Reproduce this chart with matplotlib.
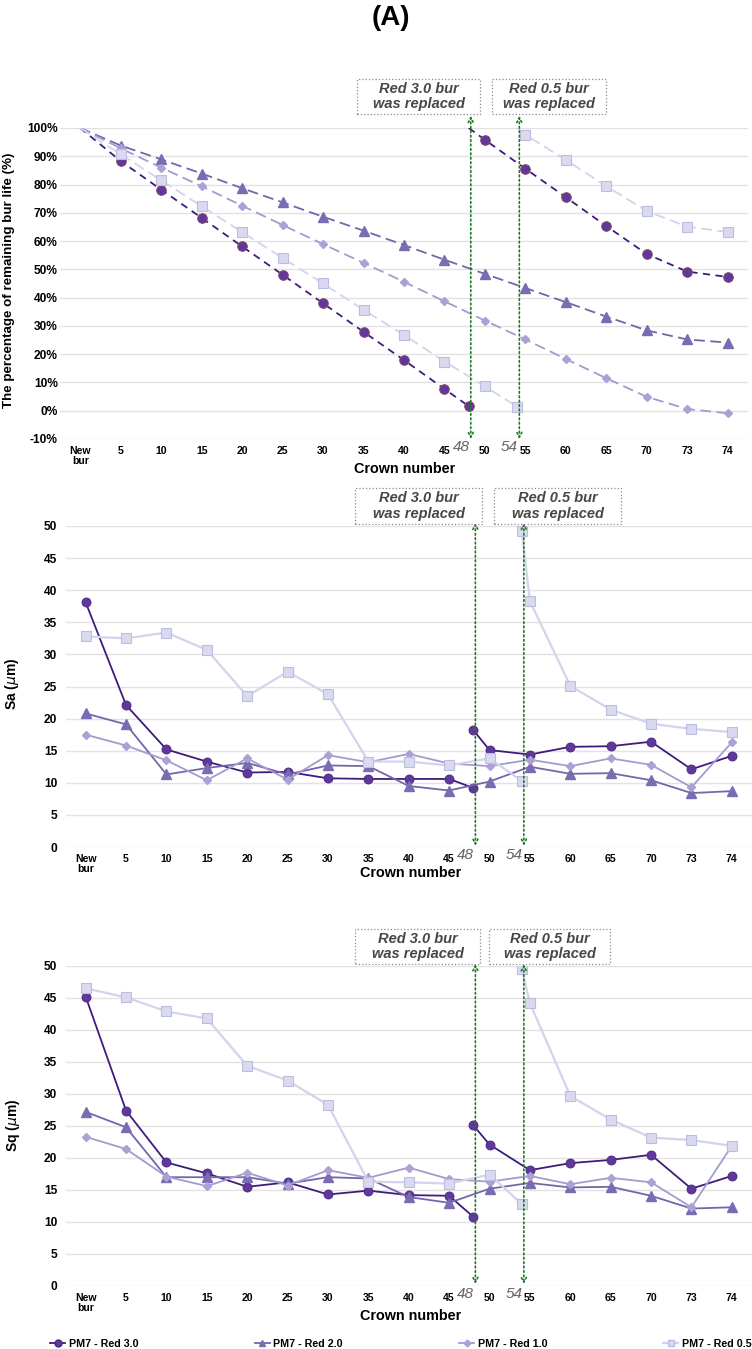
import numpy as np
import matplotlib
matplotlib.use("Agg")
from matplotlib import pyplot as plt
from matplotlib.lines import Line2D
from matplotlib.patches import Rectangle

plt.rcParams['font.family'] = ['Liberation Sans', 'DejaVu Sans']

# category axis: crown numbers shown as ticks
tick_crowns = [0, 5, 10, 15, 20, 25, 30, 35, 40, 45, 50, 55, 60, 65, 70, 73, 74]
tick_labels = ["New\nbur", "5", "10", "15", "20", "25", "30", "35", "40", "45",
               "50", "55", "60", "65", "70", "73", "74"]

series_names = ["PM7 - Red 3.0", "PM7 - Red 2.0", "PM7 - Red 1.0", "PM7 - Red 0.5"]

# crowns of the broken series (bur replaced at 48 and 54)
crowns_r30_a = [0, 5, 10, 15, 20, 25, 30, 35, 40, 45, 48]
crowns_r30_b = [48, 50, 55, 60, 65, 70, 73, 74]
crowns_r05_a = [0, 5, 10, 15, 20, 25, 30, 35, 40, 45, 50, 54]
crowns_r05_b = [54, 55, 60, 65, 70, 73, 74]

# remaining bur life (%)
life_r30_a = [100, 88.3, 78.2, 68.2, 58.1, 48.1, 38.0, 27.9, 17.9, 7.7, 1.6]
life_r30_b = [100, 95.8, 85.6, 75.5, 65.3, 55.4, 49.2, 47.3]
life_r20 = [100, 93.8, 88.9, 83.9, 78.7, 73.7, 68.6, 63.7, 58.6, 53.4, 48.4,
            43.4, 38.4, 33.3, 28.4, 25.2, 24.1]
life_r10 = [100, 92.8, 86.0, 79.4, 72.5, 65.7, 58.9, 52.3, 45.6, 38.7, 31.9,
            25.2, 18.3, 11.5, 4.9, 0.6, -0.9]
life_r05_a = [100, 90.7, 81.5, 72.3, 63.2, 54.0, 45.0, 35.7, 26.8, 17.4, 8.6, 1.4]
life_r05_b = [100, 97.6, 88.7, 79.4, 70.6, 65.1, 63.2]

# Sa (um)
sa_r30_a = [38.1, 22.1, 15.2, 13.3, 11.6, 11.7, 10.7, 10.6, 10.6, 10.6, 9.2]
sa_r30_b = [18.2, 15.1, 14.4, 15.6, 15.7, 16.4, 12.1, 14.2]
sa_r20 = [20.8, 19.1, 11.3, 12.3, 13.1, 11.3, 12.7, 12.6, 9.5, 8.8, 10.2,
          12.5, 11.4, 11.5, 10.4, 8.4, 8.7]
sa_r10 = [17.5, 15.8, 13.5, 10.4, 13.8, 10.5, 14.3, 13.2, 14.5, 13.0, 12.6,
          13.6, 12.6, 13.8, 12.8, 9.3, 16.3]
sa_r05_a = [32.8, 32.5, 33.4, 30.7, 23.5, 27.3, 23.8, 13.3, 13.3, 12.7, 13.8, 10.3]
sa_r05_b = [49.2, 38.3, 25.1, 21.4, 19.2, 18.4, 17.9]

# Sq (um)
sq_r30_a = [45.2, 27.4, 19.3, 17.6, 15.5, 16.2, 14.3, 14.9, 14.2, 14.1, 10.8]
sq_r30_b = [25.1, 22.1, 18.1, 19.2, 19.7, 20.5, 15.2, 17.2]
sq_r20 = [27.2, 24.8, 17.0, 17.0, 17.0, 16.0, 17.0, 16.8, 13.9, 13.0, 15.2,
          16.1, 15.4, 15.5, 14.1, 12.1, 12.3]
sq_r10 = [23.3, 21.4, 17.1, 15.6, 17.7, 15.7, 18.1, 16.9, 18.5, 16.7, 16.3,
          17.2, 15.9, 16.9, 16.2, 12.3, 21.9]
sq_r05_a = [46.5, 45.1, 42.9, 41.8, 34.4, 32.1, 28.3, 16.3, 16.2, 16.0, 17.4, 12.8]
sq_r05_b = [49.5, 44.2, 29.7, 26.0, 23.2, 22.8, 21.9]

replaced = [(48, "Red 3.0 bur\nwas replaced"), (54, "Red 0.5 bur\nwas replaced")]

# styles
c30_line, c30_mk, c30_edge = "#3f1c7a", "#60389a", "#4b2585"
c20_line, c20_mk = "#7565aa", "#7b6bb2"
c10_line, c10_mk = "#a49ad0", "#aca1d4"
c05_line, c05_mk, c05_edge = "#d3d3ec", "#d9d9ef", "#bdbddf"
green = "#1f7a1f"


def pos(crowns):
    return np.interp(crowns, tick_crowns, np.arange(len(tick_crowns)))


W, H = 752, 1349
fig = plt.figure(figsize=(W / 100, H / 100), dpi=100)


def rect(left, right, top, bottom):
    return [left / W, 1 - bottom / H, (right - left) / W, (bottom - top) / H]


ax_top = fig.add_axes(rect(60, 748, 128, 439))
ax_sa = fig.add_axes(rect(65.5, 752, 526, 847))
ax_sq = fig.add_axes(rect(65.5, 752, 966, 1286))

all_x = pos(tick_crowns)

# --- top panel: remaining bur life, dashed lines
kw = dict(lw=1.3, markevery=slice(1, None))
ax_top.plot(pos(crowns_r30_a), life_r30_a, color=c30_line, ls=(0, (4, 3)), marker="o", ms=7,
            mfc=c30_mk, mec="#8a4a60", mew=0.6, **kw)
ax_top.plot(pos(crowns_r30_b), life_r30_b, color=c30_line, ls=(0, (4, 3)), marker="o", ms=7,
            mfc=c30_mk, mec="#8a4a60", mew=0.6, **kw)
ax_top.plot(all_x, life_r20, color=c20_line, ls=(0, (6, 3)), marker="^", ms=7,
            mfc=c20_mk, mec=c20_mk, **kw)
ax_top.plot(all_x, life_r10, color=c10_line, ls=(0, (6, 3)), marker="D", ms=4.5,
            mfc=c10_mk, mec=c10_mk, **kw)
ax_top.plot(pos(crowns_r05_a), life_r05_a, color=c05_line, ls=(0, (6, 3)), marker="s", ms=7,
            mfc=c05_mk, mec=c05_edge, mew=0.8, **kw)
ax_top.plot(pos(crowns_r05_b), life_r05_b, color=c05_line, ls=(0, (6, 3)), marker="s", ms=7,
            mfc=c05_mk, mec=c05_edge, mew=0.8, **kw)


def solid_panel(ax, r30a, r30b, r20, r10, r05a, r05b):
    ax.plot(pos(crowns_r30_a), r30a, color=c30_line, lw=1.3, marker="o", ms=6.5,
            mfc=c30_mk, mec=c30_edge, mew=0.6)
    ax.plot(pos(crowns_r30_b), r30b, color=c30_line, lw=1.3, marker="o", ms=6.5,
            mfc=c30_mk, mec=c30_edge, mew=0.6)
    ax.plot(all_x, r20, color=c20_line, lw=1.3, marker="^", ms=6.5, mfc=c20_mk, mec=c20_mk)
    ax.plot(all_x, r10, color=c10_line, lw=1.3, marker="D", ms=4.5, mfc=c10_mk, mec=c10_mk)
    ax.plot(pos(crowns_r05_a), r05a, color=c05_line, lw=1.6, marker="s", ms=7,
            mfc=c05_mk, mec=c05_edge, mew=0.8)
    ax.plot(pos(crowns_r05_b), r05b, color=c05_line, lw=1.6, marker="s", ms=7,
            mfc=c05_mk, mec=c05_edge, mew=0.8)


solid_panel(ax_sa, sa_r30_a, sa_r30_b, sa_r20, sa_r10, sa_r05_a, sa_r05_b)
solid_panel(ax_sq, sq_r30_a, sq_r30_b, sq_r20, sq_r10, sq_r05_a, sq_r05_b)

# axes cosmetics
ax_top.set_ylim(-10, 100)
ax_top.set_yticks(range(-10, 101, 10))
ax_top.set_yticklabels([f"{v}%" for v in range(-10, 101, 10)])
for ax in (ax_sa, ax_sq):
    ax.set_ylim(0, 50)
    ax.set_yticks(range(0, 51, 5))

for ax in (ax_top, ax_sa, ax_sq):
    ax.set_xlim(-0.5, len(tick_crowns) - 0.5)
    ax.set_xticks(all_x)
    ax.set_xticklabels(tick_labels, fontsize=7.6, fontweight="bold", linespacing=0.95)
    ax.tick_params(axis="both", length=0)
    ax.tick_params(axis="x", pad=5)
    for lab in ax.get_yticklabels():
        lab.set_fontweight("bold")
        lab.set_fontsize(8.6)
    for s in ax.spines.values():
        s.set_visible(False)
    ax.grid(axis="y", color="#e2e2e2", lw=1)
    ax.set_axisbelow(True)
ax_top.tick_params(axis="y", pad=1.5)
ax_sa.tick_params(axis="y", pad=6)
ax_sq.tick_params(axis="y", pad=6)

# crown number labels
ax_top.text(0.501, -0.095, "Crown number", transform=ax_top.transAxes, ha="center",
            va="center", fontsize=10.4, fontweight="bold")
ax_sa.text(0.503, -0.08, "Crown number", transform=ax_sa.transAxes, ha="center",
           va="center", fontsize=10.4, fontweight="bold")
ax_sq.text(0.503, -0.094, "Crown number", transform=ax_sq.transAxes, ha="center",
           va="center", fontsize=10.4, fontweight="bold")

# y labels
fig.text(9 / W, 1 - 280 / H, "The percentage of remaining bur life (%)", rotation=90,
         ha="center", va="center", fontsize=9.6, fontweight="bold")
fig.text(12 / W, 1 - 684 / H, "Sa ($\\mu$m)", rotation=90, ha="center", va="center",
         fontsize=10, fontweight="bold")
fig.text(13 / W, 1 - 1125 / H, "Sq ($\\mu$m)", rotation=90, ha="center", va="center",
         fontsize=10, fontweight="bold")

# replacement arrows, numbers and notes (note boxes: left, right, top, bottom in px)
arrow_span = {ax_top: (104.3, -10), ax_sa: (50.5, 0.2), ax_sq: (50.3, 0.3)}
note_boxes = {
    ax_top: [(357, 480, 79, 114), (492, 606, 79, 114)],
    ax_sa: [(355, 482, 488, 524), (494, 621, 488, 524)],
    ax_sq: [(355, 480, 929, 964), (489, 610, 929, 964)],
}
for ax in (ax_top, ax_sa, ax_sq):
    y_hi, y_lo = arrow_span[ax]
    for i, (crown, note) in enumerate(replaced):
        xl = pos(crown) + 0.05
        ax.annotate("", xy=(xl, y_lo), xytext=(xl, y_hi), annotation_clip=False,
                    arrowprops=dict(arrowstyle="<->,head_length=0.35,head_width=0.18",
                                    color=green, lw=1.2, ls=":", shrinkA=0, shrinkB=0))
        ax.text(xl - 0.03, -0.025, str(crown), transform=ax.get_xaxis_transform(),
                ha="right", va="center", fontsize=11, style="italic", color="#666666")
        l, r, t, b = note_boxes[ax][i]
        fig.patches.append(Rectangle((l / W, 1 - b / H), (r - l) / W, (b - t) / H,
                                     transform=fig.transFigure, fc="white", ec="#8a8a8a",
                                     ls=":", lw=0.9))
        fig.text((l + r) / 2 / W, 1 - (t + b) / 2 / H, note, ha="center", va="center",
                 fontsize=10.5, style="italic", fontweight="bold", color="#474747",
                 linespacing=1.15)

# title
fig.text(391 / W, 1 - 18 / H, "(A)", ha="center", va="center", fontsize=20,
         fontweight="bold")

# legend
handles = [
    Line2D([], [], color=c30_line, lw=1.3, marker="o", ms=5, mfc=c30_mk, mec=c30_edge),
    Line2D([], [], color=c20_line, lw=1.3, marker="^", ms=5, mfc=c20_mk, mec=c20_mk),
    Line2D([], [], color=c10_line, lw=1.3, marker="D", ms=3.5, mfc=c10_mk, mec=c10_mk),
    Line2D([], [], color=c05_line, lw=1.6, marker="s", ms=5, mfc=c05_mk, mec=c05_edge),
]
fig.legend(handles, series_names, loc="center", bbox_to_anchor=(401 / W, 1 - 1344 / H),
           ncol=4, frameon=False, handlelength=1.4, handletextpad=0.35,
           columnspacing=10.85, prop={"weight": "bold", "size": 7.7})

fig.savefig("out.png", dpi=100)
